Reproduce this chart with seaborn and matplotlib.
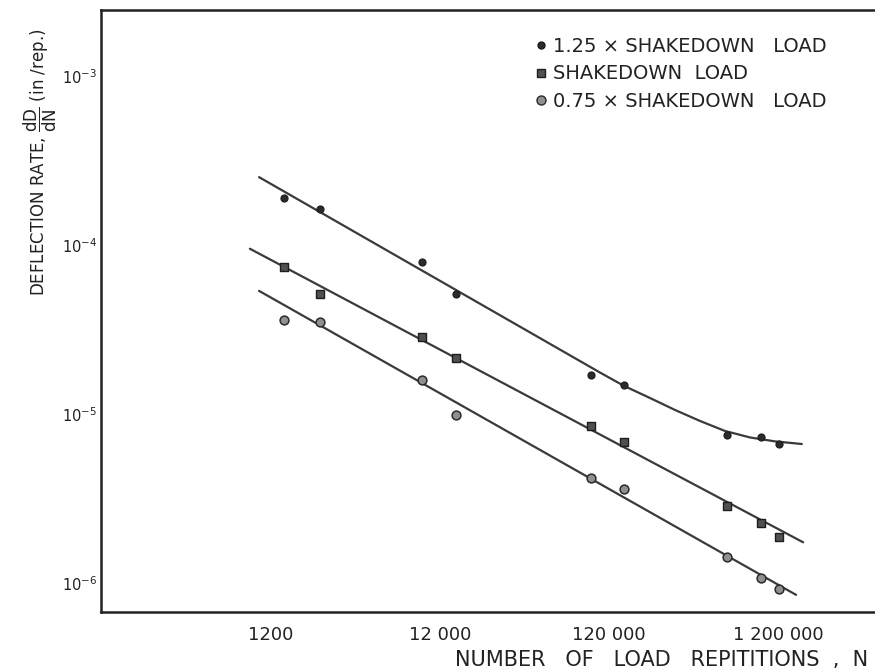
import numpy as np
import pandas as pd
import matplotlib
matplotlib.use("Agg")
import matplotlib.pyplot as plt
from matplotlib.lines import Line2D
from matplotlib.ticker import FixedLocator, FixedFormatter, NullLocator
import seaborn as sns

# ---- data ----
n_reps = [1440, 2350, 9400, 14900, 93500, 148000, 600000, 950000, 1220000]
rate_125 = [1.89e-4, 1.63e-4, 7.9e-5, 5.1e-5, 1.70e-5, 1.48e-5, 7.5e-6, 7.3e-6, 6.6e-6]
rate_100 = [7.4e-5, 5.1e-5, 2.84e-5, 2.14e-5, 8.5e-6, 6.8e-6, 2.86e-6, 2.27e-6, 1.86e-6]
rate_075 = [3.6e-5, 3.5e-5, 1.59e-5, 9.9e-6, 4.2e-6, 3.6e-6, 1.43e-6, 1.07e-6, 9.2e-7]

fit_125_n = [1020, 106200, 147200, 209800, 294900, 414600, 583000, 819500, 1152000, 1660000]
fit_125_r = [2.52e-4, 1.758e-5, 1.466e-5, 1.243e-5, 1.056e-5, 9.09e-6, 7.93e-6, 7.26e-6, 6.88e-6, 6.64e-6]
fit_100_n = [900, 1690000]
fit_100_r = [9.5e-5, 1.74e-6]
fit_075_n = [1020, 1535000]
fit_075_r = [5.35e-5, 8.5e-7]

x_ticks = [1200, 12000, 120000, 1200000]
x_ticklabels = ["1200", "12 000", "120 000", "1 200 000"]
y_ticks = [1e-6, 1e-5, 1e-4, 1e-3]
y_ticklabels = [r"$10^{-6}$", r"$10^{-5}$", r"$10^{-4}$", r"$10^{-3}$"]
labels = ["1.25 \u00d7 SHAKEDOWN   LOAD", "SHAKEDOWN  LOAD", "0.75 \u00d7 SHAKEDOWN   LOAD"]

# ---- plotting ----
sns.set_style("white")
plt.rcParams["font.family"] = ["DejaVu Sans"]
plt.rcParams["mathtext.fontset"] = "dejavusans"

fig = plt.figure(figsize=(8.75, 6.72), dpi=100)
ax = fig.add_axes([101 / 875, 60 / 672, 1 - 101 / 875, 602 / 672])
ax.set_xscale("log")
ax.set_yscale("log")

line_col = "#3a3a3a"
for fx, fy in [(fit_125_n, fit_125_r), (fit_100_n, fit_100_r), (fit_075_n, fit_075_r)]:
    sns.lineplot(x=fx, y=fy, ax=ax, color=line_col, lw=1.6, sort=False, estimator=None)

sns.scatterplot(x=n_reps, y=rate_125, ax=ax, marker="o", s=26, color="#2b2b2b",
                edgecolor="#1a1a1a", linewidth=0.8, zorder=5)
sns.scatterplot(x=n_reps, y=rate_100, ax=ax, marker="s", s=30, color="#505050",
                edgecolor="#1e1e1e", linewidth=1.0, zorder=5)
sns.scatterplot(x=n_reps, y=rate_075, ax=ax, marker="o", s=40, color="#909090",
                edgecolor="#2a2a2a", linewidth=1.1, zorder=5)

ax.set_xlim(118.4, 4.5e6)
ax.set_ylim(6.73e-7, 2.457e-3)

ax.xaxis.set_major_locator(FixedLocator(x_ticks))
ax.xaxis.set_major_formatter(FixedFormatter(x_ticklabels))
ax.xaxis.set_minor_locator(NullLocator())
ax.yaxis.set_major_locator(FixedLocator(y_ticks))
ax.yaxis.set_major_formatter(FixedFormatter(y_ticklabels))
ax.yaxis.set_minor_locator(NullLocator())
ax.tick_params(axis="both", direction="in", length=5, width=1, colors="#333333",
               labelcolor="#222222")
ax.tick_params(axis="x", pad=10, labelsize=13)
ax.tick_params(axis="y", pad=3, labelsize=10.5)

for side in ["left", "bottom", "top"]:
    ax.spines[side].set_color("#222222")
    ax.spines[side].set_linewidth(1.8)
ax.spines["right"].set_visible(False)
ax.set_xlabel("")
ax.set_ylabel("")

fig.text(868 / 875, 1 - 660 / 672, "NUMBER   OF   LOAD   REPITITIONS  ,  N",
         ha="right", va="center", fontsize=15, color="#222222")
fig.text(40 / 875, 1 - 162 / 672,
         r"DEFLECTION RATE, $\dfrac{\mathrm{dD}}{\mathrm{dN}}$ (in /rep.)",
         rotation=90, ha="center", va="center", fontsize=12, color="#222222")

handles = [
    Line2D([], [], marker="o", ls="", markersize=5, markerfacecolor="#2b2b2b", markeredgecolor="#1a1a1a"),
    Line2D([], [], marker="s", ls="", markersize=6, markerfacecolor="#505050", markeredgecolor="#1e1e1e"),
    Line2D([], [], marker="o", ls="", markersize=6.5, markerfacecolor="#909090", markeredgecolor="#2a2a2a"),
]
fig.legend(handles, labels, loc="upper left", bbox_to_anchor=(535 / 875, 1 - 37 / 672),
           frameon=False, fontsize=14, handlelength=0.6, handletextpad=0.35,
           labelspacing=0.43, borderpad=0, borderaxespad=0, labelcolor="#222222")

fig.savefig("out.png", dpi=100, facecolor="white")
